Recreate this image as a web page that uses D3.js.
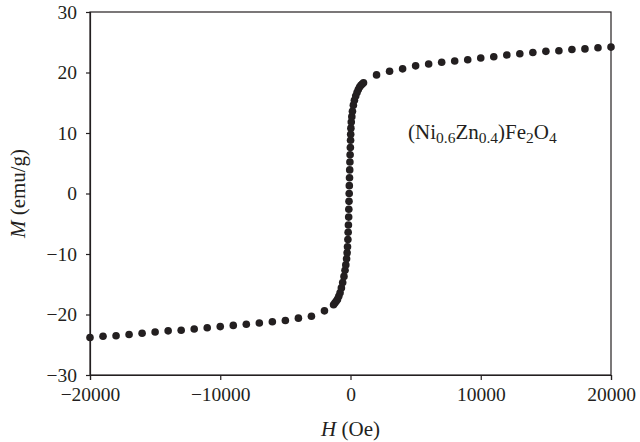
<!DOCTYPE html>
<html><head><meta charset="utf-8">
<script src="https://cdn.jsdelivr.net/npm/d3@7"></script>
<style>
body{margin:0;background:#fff}
text{font-family:"Liberation Serif","Times New Roman",serif;fill:#231f20}
</style>
</head><body><svg id="c" width="640" height="442"></svg>
<script>
// Field values (Oe)
const fieldOe = [
  -20000,-19000,-18000,-17000,-16000,-15000,-14000,-13000,-12000,-11000,
  -10000,-9000,-8000,-7000,-6000,-5000,-4000,-3000,-2000,
  -1300,-1200,-1100,-1000,-900,-800,-700,-600,-500,-420,-360,-300,-260,-230,
  -200,-180,-160,-140,-130,-115,-100,-90,-75,-60,-45,-30,-10,5,15,30,60,100,
  150,220,300,400,500,600,700,800,900,1000,
  2000,3000,4000,5000,6000,7000,8000,9000,10000,
  11000,12000,13000,14000,15000,16000,17000,18000,19000,20000
];
// Magnetization values (emu/g)
const magnetization = [
  -23.8,-23.6,-23.5,-23.3,-23.1,-22.9,-22.7,-22.6,-22.4,-22.2,
  -22.0,-21.8,-21.6,-21.4,-21.2,-21.0,-20.6,-20.3,-19.4,
  -18.4,-18.1,-17.8,-17.5,-17.0,-16.4,-15.6,-14.7,-13.7,-12.7,-11.8,-10.8,-9.8,-8.8,
  -7.6,-6.4,-5.2,-3.9,-2.6,-1.3,0.0,1.3,2.6,3.9,5.2,6.4,7.6,8.8,9.8,10.8,11.8,12.7,
  13.6,14.6,15.4,16.1,16.7,17.2,17.6,17.9,18.1,18.3,
  19.6,20.2,20.6,21.1,21.4,21.7,21.9,22.1,22.4,
  22.6,22.9,23.1,23.3,23.5,23.6,23.8,23.9,24.1,24.2
];
const xTicks = [-20000,-10000,0,10000,20000];
const yTicks = [-30,-20,-10,0,10,20,30];

const svg = d3.select("#c");
const L = 90, R = 611, T = 12, B = 375;
const x = d3.scaleLinear().domain([-20000,20000]).range([L,R]);
const y = d3.scaleLinear().domain([-30,30]).range([B,T]);
const ink = "#231f20";

// frame
svg.append("rect").attr("x",L).attr("y",T).attr("width",R-L).attr("height",B-T)
  .attr("fill","none").attr("stroke",ink).attr("stroke-width",1.2);

const fmt = d => d3.format("")(d);
const xa = svg.append("g").attr("transform",`translate(0,${B})`)
  .call(d3.axisBottom(x).tickValues(xTicks).tickSize(5).tickPadding(7).tickFormat(fmt));
const ya = svg.append("g").attr("transform",`translate(${L},0)`)
  .call(d3.axisLeft(y).tickValues(yTicks).tickSize(4).tickPadding(9).tickFormat(fmt));
[xa,ya].forEach(g=>{
  g.select(".domain").attr("stroke",ink).attr("stroke-width",1.2);
  g.selectAll(".tick line").attr("stroke",ink).attr("stroke-width",1.2);
  g.selectAll(".tick text").attr("font-size",19.5).attr("font-family","Liberation Serif").attr("fill",ink);
});

// points
svg.append("g").selectAll("circle").data(fieldOe.map((h,i)=>[h,magnetization[i]]))
  .join("circle").attr("cx",d=>x(d[0])).attr("cy",d=>y(d[1])).attr("r",3.8).attr("fill",ink);

// axis titles
const xt = svg.append("text").attr("x",(L+R)/2).attr("y",436).attr("text-anchor","middle").attr("font-size",21);
xt.append("tspan").attr("font-style","italic").text("H");
xt.append("tspan").text(" (Oe)");
const yt = svg.append("text").attr("transform",`translate(25,${(T+B)/2}) rotate(-90)`).attr("text-anchor","middle").attr("font-size",21);
yt.append("tspan").attr("font-style","italic").text("M");
yt.append("tspan").text(" (emu/g)");

// annotation
const an = svg.append("text").attr("x",408).attr("y",139).attr("font-size",21);
const parts = [["(Ni",0],["0.6",1],["Zn",0],["0.4",1],[")Fe",0],["2",1],["O",0],["4",1]];
let prevSub = 0;
parts.forEach(([t,s])=>{
  const ts = an.append("tspan").text(t);
  if (s) ts.attr("font-size",15.5);
  const dy = (s?4:0) - (prevSub?4:0);
  if (dy) ts.attr("dy",dy);
  prevSub = s;
});
</script></body></html>
